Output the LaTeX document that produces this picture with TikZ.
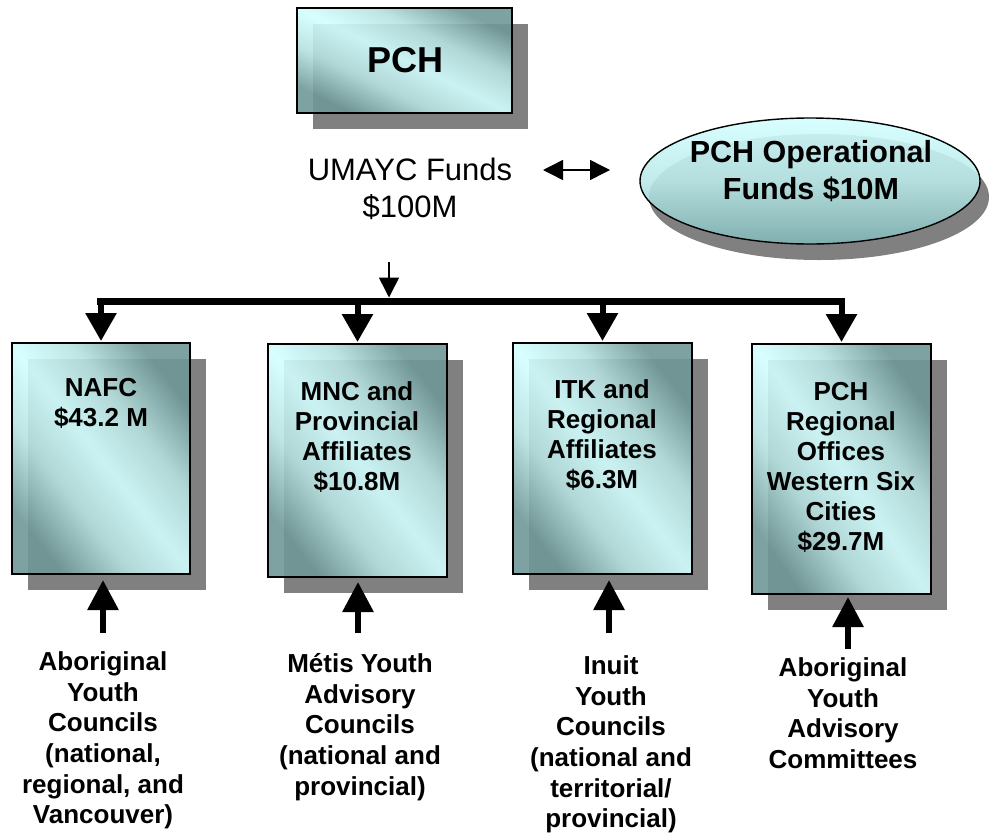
\documentclass[tikz,border=0pt]{standalone}
\usepackage{fontspec}
\setmainfont{Liberation Sans}
\usetikzlibrary{arrows.meta,shapes.geometric,shadows}

\definecolor{cyanlight}{RGB}{212,255,255}
\definecolor{tealdark}{RGB}{112,152,152}
\definecolor{tealmid}{RGB}{128,180,180}
\definecolor{shadowgray}{RGB}{128,128,128}

% dark corners, wide light band through the middle
\pgfdeclareverticalshading{boxgrad}{100bp}{%
  color(0bp)=(tealdark); color(25bp)=(tealdark);
  color(38bp)=(cyanlight!70!tealdark); color(50bp)=(cyanlight);
  color(62bp)=(cyanlight!70!tealdark); color(75bp)=(tealdark); color(100bp)=(tealdark)}

\begin{document}
\begin{tikzpicture}[x=1pt,y=1pt,
  % boxes: translucent diagonal gradient over a grey drop shadow
  fundbox/.style={draw=black, line width=1.6pt, inner sep=0pt, outer sep=0pt,
    shading=boxgrad, fill opacity=0.9, text opacity=1,
    general shadow={fill=shadowgray, fill opacity=1, shadow xshift=16pt, shadow yshift=-16pt}},
  oval/.style={ellipse, draw=black, line width=1.4pt, inner sep=0pt, outer sep=0pt,
    shading=axis, top color=cyanlight, bottom color=tealmid, middle color=cyanlight!70!tealmid,
    fill opacity=0.9, text opacity=1,
    general shadow={fill=shadowgray, fill opacity=1, shadow xshift=9pt, shadow yshift=-16pt}},
  boxtext/.style={align=center, inner sep=0pt, font=\fontsize{26}{30}\selectfont\bfseries},
  councils/.style={align=center, inner sep=0pt, font=\fontsize{26}{30.6}\selectfont\bfseries},
  bigtext/.style={align=center, inner sep=0pt, font=\fontsize{30.5}{37}\selectfont\bfseries},
  fundtext/.style={align=center, inner sep=0pt, font=\fontsize{31}{37}\selectfont},
  droparrow/.style={line width=6pt, -{Triangle[width=30pt,length=28pt]}},
  uparrow/.style={line width=6pt, -{Triangle[width=30pt,length=30pt]}},
  thinarrow/.style={line width=1.5pt, -{Triangle[width=20pt,length=20pt]}},
  linkarrow/.style={line width=1.5pt, {Triangle[width=20pt,length=20pt]}-{Triangle[width=20pt,length=20pt]}},
]
\useasboundingbox (0,0) rectangle (995,-833);

% top level
\node[fundbox, minimum width=215, minimum height=105, shading angle=-26] (pch) at (404.5,-60.5) {};
\node[font=\fontsize{36}{40}\selectfont\bfseries, inner sep=0pt] (pchlabel) at (405,-60) {PCH};

\node[fundtext] (umayc) at (410,-188.5) {UMAYC Funds\\\$100M};

\node[oval, minimum width=340, minimum height=126] (ops) at (810,-181) {};
\node[bigtext] (opslabel) at (811,-171.5) {PCH Operational\\Funds \$10M};

\coordinate (linkL) at (543,-170);
\coordinate (linkR) at (610,-170);
\draw[linkarrow] (linkL) -- (linkR);

% distribution bus
\coordinate (busL) at (97,-301);
\coordinate (busR) at (845,-301);
\coordinate (fundsIn) at (389,-262);
\draw[line width=7pt] (busL) -- (busR);
\draw[thinarrow, shorten >=3.5pt] (fundsIn) -- (fundsIn |- busL);

% recipient boxes
\node[fundbox, minimum width=178, minimum height=231, shading angle=-52] (nafc) at (101,-458.5) {};
\node[fundbox, minimum width=179, minimum height=233, shading angle=-52] (mnc) at (357.5,-460.5) {};
\node[fundbox, minimum width=179, minimum height=231, shading angle=-52] (itk) at (602.5,-458.5) {};
\node[fundbox, minimum width=179, minimum height=250, shading angle=-55] (reg) at (841.5,-469) {};

\node[boxtext] (nafctext) at (101,-403) {NAFC\\\$43.2 M};
\node[boxtext] (mnctext) at (357,-437.5) {MNC and\\Provincial\\Affiliates\\\$10.8M};
\node[boxtext] (itktext) at (602,-435.5) {ITK and\\Regional\\Affiliates\\\$6.3M};
\node[boxtext] (regtext) at (841,-467) {PCH\\Regional\\Offices\\Western Six\\Cities\\\$29.7M};

\draw[droparrow, shorten >=2pt] (busL -| nafc.north) -- (nafc.north);
\draw[droparrow, shorten >=2pt] (busL -| mnc.north) -- (mnc.north);
\draw[droparrow, shorten >=2pt] (busL -| itk.north) -- (itk.north);
\draw[droparrow, shorten >=2pt] (busL -| reg.north) -- (reg.north);

% youth councils feeding back up
\node[councils] (c1) at (103,-740.5) {Aboriginal\\Youth\\Councils\\(national,\\regional, and\\Vancouver)};
\node[councils] (c2) at (360,-727) {Métis Youth\\Advisory\\Councils\\(national and\\provincial)};
\node[councils] (c3) at (611,-744.5) {Inuit\\Youth\\Councils\\(national and\\territorial/\\provincial)};
\node[councils] (c4) at (843,-713) {Aboriginal\\Youth\\Advisory\\Committees};

\coordinate (u1) at (103,-633);
\coordinate (u2) at (358,-633);
\coordinate (u3) at (609,-633);
\coordinate (u4) at (848,-649);
\draw[uparrow, shorten >=6pt] (u1) -- (u1 |- nafc.south);
\draw[uparrow, shorten >=5pt] (u2) -- (u2 |- mnc.south);
\draw[uparrow, shorten >=6pt] (u3) -- (u3 |- itk.south);
\draw[uparrow, shorten >=3pt] (u4) -- (u4 |- reg.south);
\end{tikzpicture}
\end{document}
